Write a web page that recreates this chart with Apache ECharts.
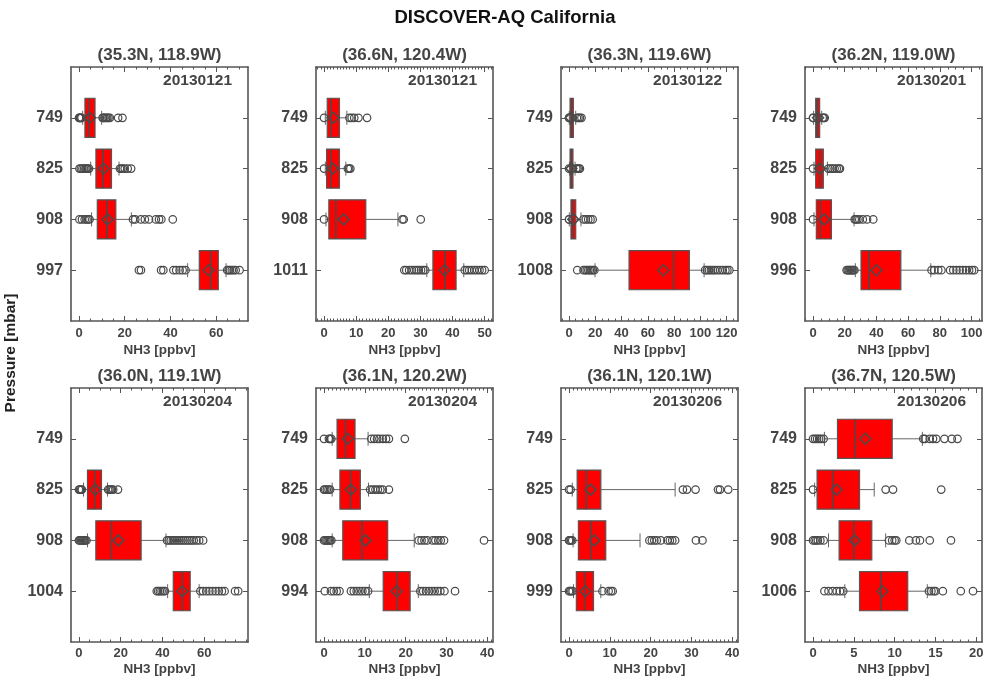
<!DOCTYPE html>
<html>
<head>
<meta charset="utf-8">
<title>DISCOVER-AQ California</title>
<script src="https://cdn.jsdelivr.net/npm/echarts@6/dist/echarts.min.js"></script>
<style>
  html, body { margin: 0; padding: 0; background: #ffffff; }
  #chart { width: 984px; height: 680px; }
</style>
</head>
<body>
<div id="chart"></div>
<script>
// ---- Site metadata ----
const panelTitles = ['(35.3N, 118.9W)', '(36.6N, 120.4W)', '(36.3N, 119.6W)', '(36.2N, 119.0W)',
                     '(36.0N, 119.1W)', '(36.1N, 120.2W)', '(36.1N, 120.1W)', '(36.7N, 120.5W)'];
const panelDates = ['20130121', '20130121', '20130122', '20130201',
                    '20130204', '20130204', '20130206', '20130206'];
const pressureLabels = [
  ['749', '825', '908', '997'],
  ['749', '825', '908', '1011'],
  ['749', '825', '908', '1008'],
  ['749', '825', '908', '996'],
  ['749', '825', '908', '1004'],
  ['749', '825', '908', '994'],
  ['749', '825', '908', '999'],
  ['749', '825', '908', '1006']
];

// ---- NH3 axis extents and tick labels ----
const xMin = [-3.5, -2.5, -6.1, -5.05, -3.8, -1.96, -1.96, -0.98];
const xMax = [73.9, 52.6, 128.6, 106.6, 81, 41.4, 41.4, 20.7];
const majorTicks = [
  [0, 20, 40, 60],
  [0, 10, 20, 30, 40, 50],
  [0, 20, 40, 60, 80, 100, 120],
  [0, 20, 40, 60, 80, 100],
  [0, 20, 40, 60],
  [0, 10, 20, 30, 40],
  [0, 10, 20, 30, 40],
  [0, 5, 10, 15, 20]
];
const minorStep = [5, 1, 5, 5, 5, 1, 1, 1];

// ---- Box statistics per level: [whiskerLow, q1, median, q3, whiskerHigh, mean] ----
const boxes1 = [
  [1.6, 2.6, 4.5, 7.0, 9.9, 4.8],
  [5.1, 7.4, 10.4, 14.2, 17.5, 10.7],
  [5.5, 8.0, 12.3, 16.1, 22.9, 12.5],
  [47.5, 52.6, 57.5, 60.9, 64.3, 56.7]
];
const boxes2 = [
  [0.4, 1.0, 2.2, 4.8, 7.1, 2.9],
  [0.4, 0.8, 2.2, 4.8, 6.8, 2.7],
  [0.6, 1.5, 3.7, 13.0, 23.0, 6.1],
  [32.0, 33.9, 37.7, 41.1, 43.5, 37.5]
];
const boxes3 = [
  [0.2, 0.8, 2.0, 3.3, 5.1, 1.5],
  [0.3, 0.8, 1.8, 3.0, 4.6, 1.8],
  [0.2, 1.5, 2.5, 5.1, 9.1, 3.3],
  [19.8, 45.7, 79.7, 91.6, 102.8, 71.8]
];
const boxes4 = [
  [0.4, 1.7, 2.7, 4.2, 5.5, 3.2],
  [0.6, 1.7, 4.4, 6.5, 9.1, 4.4],
  [0.6, 2.1, 4.6, 11.6, 25.9, 7.2],
  [26.7, 30.3, 35.4, 55.4, 74.3, 40.0]
];
const boxes5 = [
  null,
  [2.2, 4.1, 7.5, 10.8, 13.7, 7.8],
  [4.1, 8.1, 15.6, 29.8, 41.7, 18.9],
  [42.5, 45.2, 49.5, 53.3, 57.6, 49.5]
];
const boxes6 = [
  [2.0, 3.2, 5.3, 7.6, 10.8, 5.8],
  [2.0, 3.9, 6.5, 8.9, 10.9, 6.6],
  [2.0, 4.6, 9.3, 15.6, 22.1, 10.2],
  [11.1, 14.5, 18.0, 21.1, 23.1, 17.8]
];
const boxes7 = [
  null,
  [0.8, 2.0, 4.2, 7.8, 26.0, 5.3],
  [1.0, 2.3, 5.3, 9.0, 17.4, 6.2],
  [1.1, 1.8, 3.8, 6.0, 7.8, 4.0]
];
const boxes8 = [
  [1.4, 3.0, 5.2, 9.7, 13.4, 6.4],
  [0.2, 0.5, 2.4, 5.7, 7.5, 2.9],
  [1.9, 3.2, 5.0, 7.2, 8.9, 5.1],
  [3.9, 5.7, 8.3, 11.6, 14.0, 8.5]
];

// ---- Outlying samples per level ----
const outliers1 = [
  [0, 0.2, 0.5, 0.8, 1.1, 10.3, 10.7, 11.2, 11.8, 12.3, 12.9, 13.5, 17.1, 19.0],
  [0.2, 0.8, 1.5, 2.2, 2.8, 3.3, 3.8, 4.4, 17.9, 18.5, 19.2, 20.0, 21.3, 22.8],
  [0.2, 1.3, 2.5, 3.3, 4.0, 4.6, 23.6, 24.6, 27.0, 28.8, 30.6, 33.6, 35.0, 36.0, 41.0],
  [26.2, 27.1, 35.9, 36.9, 41.3, 42.5, 44.0, 45.3, 46.6, 64.8, 65.4, 66.0, 66.8, 67.6, 68.5, 70.2]
];
const outliers2 = [
  [0, 7.9, 8.6, 9.4, 10.7, 13.4],
  [0, 7.4, 7.8, 8.2],
  [0, 24.4, 24.8, 30.1],
  [25.0, 25.6, 26.5, 27.3, 28.1, 28.8, 29.5, 30.2, 30.9, 31.5,
   43.8, 44.5, 45.2, 46.0, 46.8, 47.6, 48.4, 49.2, 50.0]
];
const outliers3 = [
  [0, 0.1, 6.0, 7.2, 8.3, 9.5],
  [0, 5.5, 6.5, 7.5, 8.3],
  [0, 0.1, 11.0, 12.8, 14.6, 16.4, 18.0],
  [6.3, 11.0, 12.3, 13.5, 14.7, 15.9, 17.0, 18.2, 19.3,
   103.6, 105.0, 106.5, 108.0, 109.5, 111.0, 113.0, 115.0, 117.0, 119.0, 120.5, 122.0]
];
const outliers4 = [
  [0, 0.1, 6.1, 6.8, 7.4],
  [0, 9.7, 11.0, 12.3, 13.6, 15.0, 16.3, 17.0],
  [0, 26.3, 27.0, 28.0, 29.2, 31.4, 34.1, 38.0],
  [21.2, 21.9, 22.6, 23.3, 24.0, 24.7, 25.4, 26.1,
   74.8, 76.5, 79.0, 81.0, 86.5, 88.5, 90.5, 92.5, 94.5, 96.5, 98.5, 100.3, 101.7]
];
const outliers5 = [
  [],
  [0, 0.5, 1.0, 1.4, 14.0, 14.6, 15.2, 15.8, 16.4, 18.7],
  [0, 0.5, 1.0, 1.5, 2.0, 2.5, 3.0, 3.6, 42.2, 43.0, 44.0, 45.0, 46.0, 47.0, 48.0,
   49.0, 50.0, 51.0, 52.0, 53.0, 54.0, 55.0, 56.3, 57.6, 59.5],
  [37.3, 38.0, 38.8, 39.6, 40.4, 41.2, 58.2, 59.5, 61.0, 62.5, 64.0, 65.5, 67.0, 68.5, 69.8, 74.8, 76.3]
];
const outliers6 = [
  [0, 1.2, 1.5, 1.8, 11.6, 12.3, 13.0, 13.6, 14.4, 15.2, 15.9, 19.8],
  [0, 0.3, 0.7, 1.1, 1.5, 11.3, 12.0, 12.6, 13.2, 13.8, 14.4, 15.9],
  [0, 0.3, 0.6, 0.9, 1.2, 1.5, 1.8, 23.2, 23.9, 24.6, 25.3, 26.6, 27.3, 28.0, 28.6, 29.4, 39.2],
  [0.2, 1.7, 2.4, 3.1, 3.8, 6.6, 7.3, 8.0, 8.7, 9.4, 10.1, 10.8,
   23.6, 24.3, 25.0, 25.7, 26.4, 27.1, 27.8, 28.5, 29.5, 32.1]
];
const outliers7 = [
  [],
  [0, 0.4, 27.9, 28.9, 31.0, 36.5, 37.0, 39.0],
  [0, 0.2, 0.5, 0.8, 19.7, 20.3, 20.9, 21.5, 22.5, 24.1, 24.7, 25.3, 26.0, 31.1, 32.7],
  [0, 0.3, 0.6, 0.9, 8.2, 9.7, 10.3, 10.7]
];
const outliers8 = [
  [0, 0.25, 0.5, 0.75, 1.0, 1.3, 13.5, 13.7, 14.3, 14.7, 15.1, 16.1, 17.0, 17.7],
  [0, 8.9, 9.8, 15.7],
  [0, 0.2, 0.4, 0.6, 0.9, 1.3, 9.3, 9.7, 10.0, 10.2, 11.8, 12.6, 13.1, 14.3, 16.9],
  [1.4, 1.9, 2.4, 2.9, 3.3, 3.7, 14.2, 14.5, 14.8, 15.0, 15.9, 18.1, 19.6]
];

const panelBoxes = [boxes1, boxes2, boxes3, boxes4, boxes5, boxes6, boxes7, boxes8];
const panelOutliers = [outliers1, outliers2, outliers3, outliers4, outliers5, outliers6, outliers7, outliers8];

// ---- Layout and style ----
const FONT = '"Liberation Sans", Arial, Helvetica, sans-serif';
const TEXT = '#444444';
const LINE = '#555555';
const MARK = '#4a4a4a';
const BOX_FILL = '#ff0000';
const colLeft = [71, 316, 561, 805];
const rowTop = [67, 388];
const PW = 177, PH = 254;

const chart = echarts.init(document.getElementById('chart'), null, { renderer: 'canvas' });

function minorValues(min, max, step) {
  const out = [];
  for (let k = Math.ceil(min / step); k * step <= max; k++) out.push(+(k * step).toFixed(6));
  return out;
}

// Box-and-whisker glyph with a mean diamond, placed through the panel's axes
function renderBox(params, api) {
  const level = api.value(0);
  const lo = api.value(1), q1 = api.value(2), med = api.value(3);
  const q3 = api.value(4), hi = api.value(5), mean = api.value(6);
  const pLo = api.coord([lo, level]);
  const pQ1 = api.coord([q1, level]);
  const pMed = api.coord([med, level]);
  const pQ3 = api.coord([q3, level]);
  const pHi = api.coord([hi, level]);
  const pMean = api.coord([mean, level]);
  const cy = pQ1[1];
  const halfH = Math.abs(api.size([0, 1])[1]) * 0.385;
  const capH = 7;
  const d = 5.5;
  const whisker = { stroke: '#666666', lineWidth: 1, fill: null };
  return {
    type: 'group',
    children: [
      { type: 'line', shape: { x1: pLo[0], y1: cy, x2: pQ1[0], y2: cy }, style: whisker },
      { type: 'line', shape: { x1: pQ3[0], y1: cy, x2: pHi[0], y2: cy }, style: whisker },
      { type: 'line', shape: { x1: pLo[0], y1: cy - capH, x2: pLo[0], y2: cy + capH }, style: whisker },
      { type: 'line', shape: { x1: pHi[0], y1: cy - capH, x2: pHi[0], y2: cy + capH }, style: whisker },
      { type: 'rect', shape: { x: pQ1[0], y: cy - halfH, width: pQ3[0] - pQ1[0], height: 2 * halfH },
        style: { fill: BOX_FILL, stroke: LINE, lineWidth: 1.2 } },
      { type: 'line', shape: { x1: pMed[0], y1: cy - halfH, x2: pMed[0], y2: cy + halfH },
        style: { stroke: MARK, lineWidth: 1.5, fill: null } },
      { type: 'polygon', shape: { points: [[pMean[0] - d, cy], [pMean[0], cy - d], [pMean[0] + d, cy], [pMean[0], cy + d]] },
        style: { fill: 'rgba(0,0,0,0)', stroke: MARK, lineWidth: 1.5 } }
    ]
  };
}

const grids = [], xAxes = [], yAxes = [], series = [], graphics = [];
const labelStyle = { color: TEXT, fontWeight: 'bold', fontFamily: FONT };

for (let i = 0; i < 8; i++) {
  const row = Math.floor(i / 4), col = i % 4;
  const left = colLeft[col], top = rowTop[row];
  grids.push({ left: left, top: top, width: PW, height: PH, containLabel: false, outerBoundsMode: 'none' });

  const mins = minorValues(xMin[i], xMax[i], minorStep[i]);
  const axisLineStyle = { color: LINE, width: 1.6 };
  const tickStyle = { color: LINE, width: 1 };
  const base = { gridIndex: i, type: 'value', min: xMin[i], max: xMax[i], splitLine: { show: false } };

  // bottom: labels + major ticks
  xAxes.push(Object.assign({}, base, {
    position: 'bottom',
    axisLine: { show: true, onZero: false, lineStyle: axisLineStyle },
    axisTick: { show: true, inside: true, length: 5, customValues: majorTicks[i], lineStyle: tickStyle },
    axisLabel: Object.assign({ show: true, fontSize: 13, margin: row === 0 ? 6 : 5,
                               customValues: majorTicks[i] }, labelStyle),
    name: 'NH3 [ppbv]', nameLocation: 'middle', nameGap: row === 0 ? 22 : 20,
    nameTextStyle: Object.assign({ fontSize: 13.5 }, labelStyle)
  }));
  // bottom: minor ticks
  xAxes.push(Object.assign({}, base, {
    position: 'bottom',
    axisLine: { show: false, onZero: false },
    axisTick: { show: true, inside: true, length: 2.5, customValues: mins, lineStyle: tickStyle },
    axisLabel: { show: false }
  }));
  // top: major ticks
  xAxes.push(Object.assign({}, base, {
    position: 'top',
    axisLine: { show: true, onZero: false, lineStyle: axisLineStyle },
    axisTick: { show: true, inside: true, length: 5, customValues: majorTicks[i], lineStyle: tickStyle },
    axisLabel: { show: false }
  }));
  // top: minor ticks
  xAxes.push(Object.assign({}, base, {
    position: 'top',
    axisLine: { show: false, onZero: false },
    axisTick: { show: true, inside: true, length: 2.5, customValues: mins, lineStyle: tickStyle },
    axisLabel: { show: false }
  }));

  const labels = pressureLabels[i];
  const yBase = { gridIndex: i, type: 'value', inverse: true, min: 0, max: 5, interval: 1, splitLine: { show: false } };
  yAxes.push(Object.assign({}, yBase, {
    position: 'left',
    axisLine: { show: true, onZero: false, lineStyle: axisLineStyle },
    axisTick: { show: true, inside: true, length: 5, customValues: [1, 2, 3, 4], lineStyle: tickStyle },
    axisLabel: Object.assign({ show: true, fontSize: 16, margin: 8, customValues: [1, 2, 3, 4],
                               formatter: function (v) { return labels[Math.round(v) - 1] || ''; } }, labelStyle)
  }));
  yAxes.push(Object.assign({}, yBase, {
    position: 'right',
    axisLine: { show: true, onZero: false, lineStyle: axisLineStyle },
    axisTick: { show: true, inside: true, length: 5, customValues: [1, 2, 3, 4], lineStyle: tickStyle },
    axisLabel: { show: false }
  }));

  const boxData = [];
  panelBoxes[i].forEach(function (b, j) { if (b) boxData.push([j + 1].concat(b)); });
  series.push({
    type: 'custom', xAxisIndex: i * 4, yAxisIndex: i * 2,
    renderItem: renderBox,
    encode: { x: [1, 2, 3, 4, 5, 6], y: 0 },
    data: boxData, z: 2, silent: true
  });

  const pts = [];
  panelOutliers[i].forEach(function (list, j) { list.forEach(function (v) { pts.push([v, j + 1]); }); });
  series.push({
    type: 'scatter', xAxisIndex: i * 4, yAxisIndex: i * 2,
    symbol: 'circle', symbolSize: 7.5,
    itemStyle: { color: 'rgba(0,0,0,0)', borderColor: MARK, borderWidth: 1.2, opacity: 1 },
    data: pts, z: 3, silent: true
  });

  // panel heading and date stamp
  graphics.push({
    type: 'text', silent: true,
    style: { x: left + PW / 2, y: top - 12, text: panelTitles[i], fill: TEXT,
             font: 'bold 17px ' + FONT, textAlign: 'center', textVerticalAlign: 'middle',
             align: 'center', verticalAlign: 'middle' }
  });
  graphics.push({
    type: 'text', silent: true,
    style: { x: left + PW - 16, y: top + 14, text: panelDates[i], fill: TEXT,
             font: 'bold 15.5px ' + FONT, textAlign: 'right', textVerticalAlign: 'middle',
             align: 'right', verticalAlign: 'middle' }
  });
}

graphics.push({
  type: 'text', silent: true,
  style: { x: 505, y: 18, text: 'DISCOVER-AQ California', fill: '#111111',
           font: 'bold 18.5px ' + FONT, textAlign: 'center', textVerticalAlign: 'middle',
           align: 'center', verticalAlign: 'middle' }
});
graphics.push({
  type: 'text', silent: true, x: 11, y: 353, rotation: Math.PI / 2,
  style: { x: 0, y: 0, text: 'Pressure [mbar]', fill: '#222222',
           font: 'bold 15.5px ' + FONT, textAlign: 'center', textVerticalAlign: 'middle',
           align: 'center', verticalAlign: 'middle' }
});

chart.setOption({
  animation: false,
  backgroundColor: '#ffffff',
  grid: grids,
  xAxis: xAxes,
  yAxis: yAxes,
  series: series,
  graphic: { elements: graphics }
});
</script>
</body>
</html>
